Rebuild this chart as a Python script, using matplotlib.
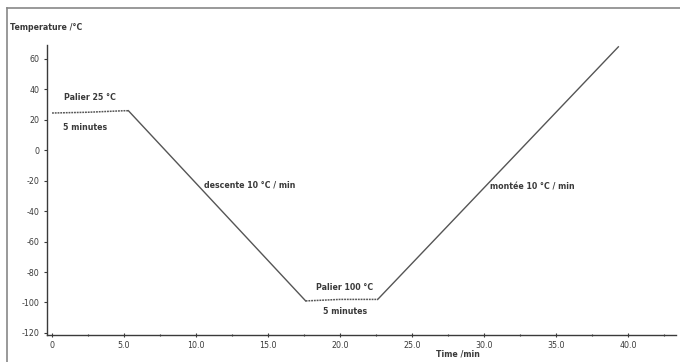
import matplotlib.pyplot as plt
from matplotlib.lines import Line2D

# Temperature programme
time_min = [0.0, 2.5, 5.0, 5.3, 17.6, 20.0, 22.6, 39.3]
temp_c = [24.5, 25.0, 26.0, 26.0, -99.0, -98.0, -98.0, 68.0]

y_ticks = [60, 40, 20, 0, -20, -40, -60, -80, -100, -120]
y_labels = ["60", "40", "20", "0", "-20", "-40", "-60", "-80", "-100", "-120"]
x_ticks = [0, 5, 10, 15, 20, 25, 30, 35, 40]
x_labels = ["0", "5.0", "10.0", "15.0", "20.0", "25.0", "30.0", "35.0", "40.0"]

# annotations: (text, time, temperature)
notes = [
    ("Palier 25 °C", 2.6, 35),
    ("5 minutes", 2.3, 15),
    ("descente 10 °C / min", 13.7, -23),
    ("Palier 100 °C", 20.3, -90),
    ("5 minutes", 20.3, -106),
    ("montée 10 °C / min", 33.3, -24),
]

plt.rcParams['font.family'] = ['DejaVu Sans']
fs = 5.7
ink = '#3a3a3a'

fig = plt.figure(figsize=(6.8, 3.62), dpi=100)
ax = fig.add_axes([47 / 680, 1 - 335 / 362, (676 - 47) / 680, (335 - 45) / 362])

# plateaux look dotted, ramps solid
line_col = '#555555'
ax.plot(time_min[0:4], temp_c[0:4], color=line_col, lw=1.1, ls=(0, (1.2, 0.6)))
ax.plot(time_min[3:5], temp_c[3:5], color=line_col, lw=1.0)
ax.plot(time_min[4:7], temp_c[4:7], color=line_col, lw=1.1, ls=(0, (1.2, 0.6)))
ax.plot(time_min[6:8], temp_c[6:8], color=line_col, lw=1.0)

for txt, x, y in notes:
    ax.text(x, y, txt, fontsize=fs, ha='center', va='center', color=ink,
            fontweight='semibold')

ax.set_xlim(-0.35, 43.3)
ax.set_ylim(-121.4, 69.2)
ax.set_yticks(y_ticks)
ax.set_yticklabels(y_labels)
ax.set_xticks(x_ticks)
ax.set_xticklabels(x_labels)
ax.set_xticks([2.5 + 5 * i for i in range(9)], minor=True)

for s in ['top', 'right']:
    ax.spines[s].set_visible(False)
for s in ['left', 'bottom']:
    ax.spines[s].set_color(ink)
    ax.spines[s].set_linewidth(1.0)

ax.tick_params(axis='both', which='both', labelsize=fs, colors=ink,
               length=2.5, width=0.8, pad=3)
ax.tick_params(axis='x', which='both', direction='inout', length=3)
ax.tick_params(axis='x', which='minor', length=2)

fig.text(10 / 680, 1 - 28 / 362, "Temperature /°C", fontsize=fs, color=ink,
         ha='left', va='center', fontweight='semibold')
fig.text(458 / 680, 1 - 354 / 362, "Time /min", fontsize=fs, color=ink,
         ha='center', va='center', fontweight='semibold')

# grey frame around the plot, top and left edges
fig.add_artist(Line2D([7 / 680, 1], [1 - 8 / 362, 1 - 8 / 362],
                      transform=fig.transFigure, color='#888888', lw=1.2))
fig.add_artist(Line2D([7 / 680, 7 / 680], [0, 1 - 8 / 362],
                      transform=fig.transFigure, color='#888888', lw=1.2))

fig.savefig('out.png', dpi=100)
